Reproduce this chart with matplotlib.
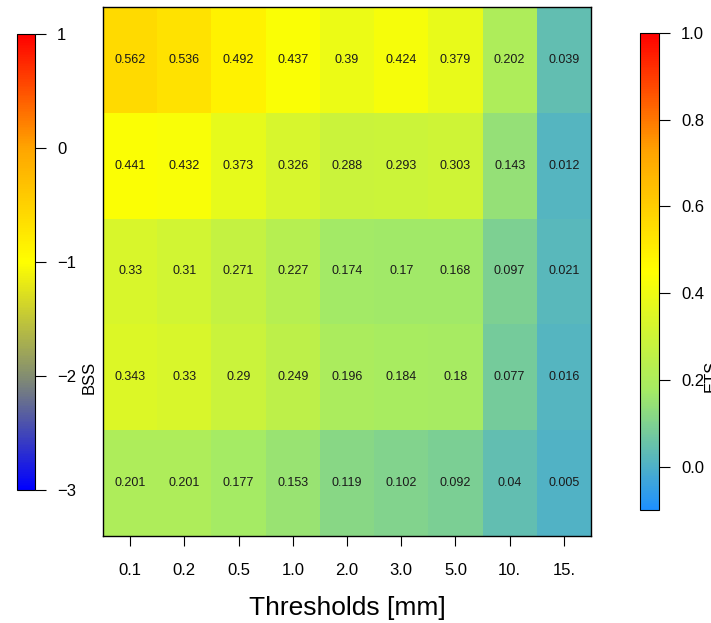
import numpy as np
import matplotlib
matplotlib.use("Agg")
import matplotlib.pyplot as plt
from matplotlib.colors import LinearSegmentedColormap, Normalize
from matplotlib.cm import ScalarMappable

plt.rcParams['font.family'] = ['Liberation Sans', 'DejaVu Sans']

thresholds = ["0.1", "0.2", "0.5", "1.0", "2.0", "3.0", "5.0", "10.", "15."]

# rows from top to bottom
row1 = [0.562, 0.536, 0.492, 0.437, 0.39, 0.424, 0.379, 0.202, 0.039]
row2 = [0.441, 0.432, 0.373, 0.326, 0.288, 0.293, 0.303, 0.143, 0.012]
row3 = [0.33, 0.31, 0.271, 0.227, 0.174, 0.17, 0.168, 0.097, 0.021]
row4 = [0.343, 0.33, 0.29, 0.249, 0.196, 0.184, 0.18, 0.077, 0.016]
row5 = [0.201, 0.201, 0.177, 0.153, 0.119, 0.102, 0.092, 0.04, 0.005]

ets = np.array([row1, row2, row3, row4, row5])

ets_cmap = LinearSegmentedColormap.from_list(
    "ets", [(0.0, "dodgerblue"), (0.25, "#a5eb64"), (0.5, "yellow"),
            (0.75, "orange"), (1.0, "red")])
bss_cmap = LinearSegmentedColormap.from_list(
    "bss", [(0.0, "blue"), (0.25, "#848e70"), (0.5, "yellow"),
            (0.75, "orange"), (1.0, "red")])

ets_norm = Normalize(vmin=-0.1, vmax=1.0)
bss_norm = Normalize(vmin=-3, vmax=1)

W, H = 711, 623
fig = plt.figure(figsize=(W / 100, H / 100), dpi=100)

def box(x0, y0, x1, y1):
    return [x0 / W, 1 - y1 / H, (x1 - x0) / W, (y1 - y0) / H]

ax = fig.add_axes(box(103, 7, 591, 536))
nr, nc = ets.shape
ax.pcolormesh(np.arange(nc + 1), np.arange(nr + 1), ets[::-1],
              cmap=ets_cmap, norm=ets_norm)
for i in range(nr):
    for j in range(nc):
        ax.text(j + 0.5, nr - i - 0.5, str(ets[i, j]), ha='center',
                va='center', fontsize=9, color='#1a1a1a')
ax.set_xlim(0, nc)
ax.set_ylim(0, nr)
ax.set_xticks(np.arange(nc) + 0.5)
ax.set_xticklabels(thresholds, fontsize=12)
ax.tick_params(axis='x', length=7.5, pad=12)
ax.set_yticks([])
ax.set_xlabel("Thresholds [mm]", fontsize=19, labelpad=13)
for s in ax.spines.values():
    s.set_linewidth(1.0)

cax1 = fig.add_axes(box(17, 34, 35, 490))
cb1 = fig.colorbar(ScalarMappable(norm=bss_norm, cmap=bss_cmap), cax=cax1)
cb1.set_ticks([-3, -2, -1, 0, 1])
cax1.tick_params(length=8, pad=8, labelsize=12)
cb1.outline.set_linewidth(0.8)

cax2 = fig.add_axes(box(640, 33, 659, 510))
cb2 = fig.colorbar(ScalarMappable(norm=ets_norm, cmap=ets_cmap), cax=cax2)
cb2.set_ticks([0.0, 0.2, 0.4, 0.6, 0.8, 1.0])
cb2.set_ticklabels(["0.0", "0.2", "0.4", "0.6", "0.8", "1.0"])
cax2.tick_params(length=8, pad=8, labelsize=12)
cb2.outline.set_linewidth(0.8)

fig.text(89 / W, 1 - 377 / H, "BSS", rotation=90, ha='center', va='center',
         fontsize=12)
fig.text(704 / W, 1 - 376 / H, "ETS", rotation=90, ha='left', va='center',
         fontsize=12)

fig.savefig("out.png", dpi=100)
